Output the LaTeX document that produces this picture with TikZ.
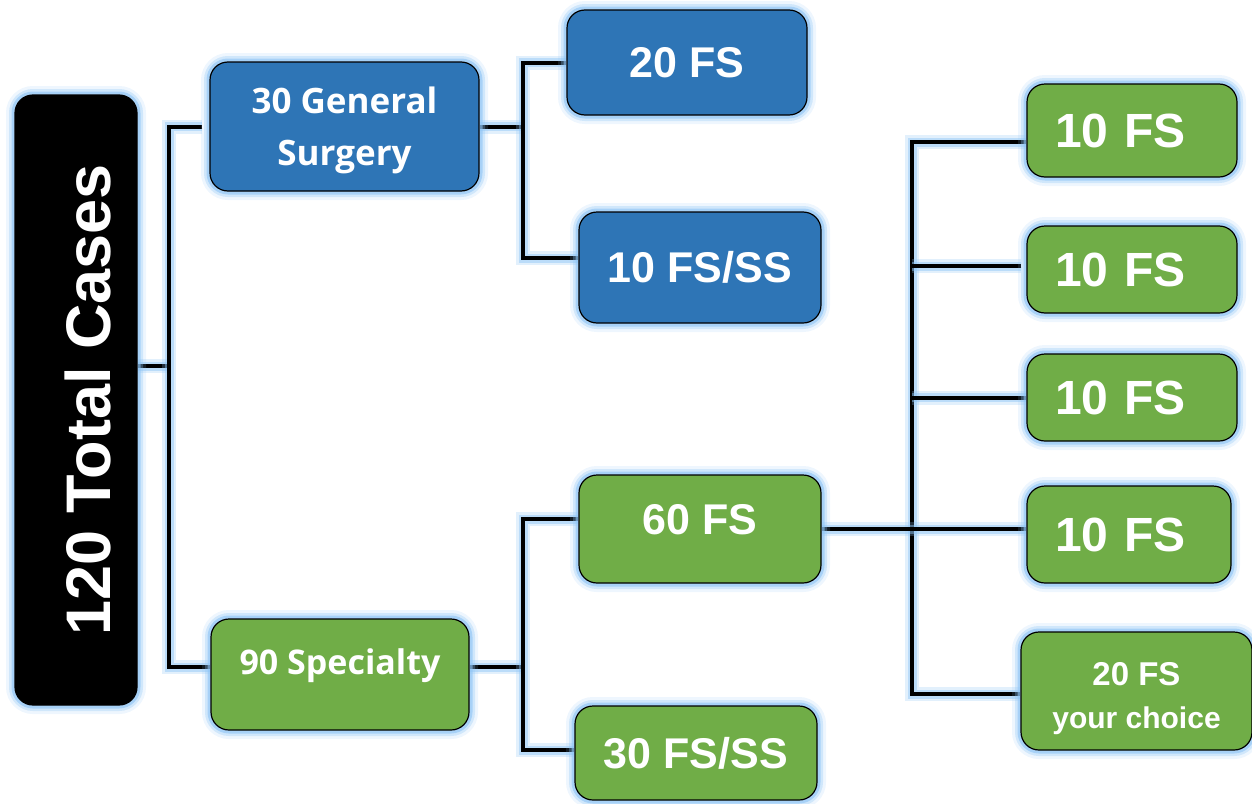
\documentclass[tikz,border=0pt]{standalone}
\usepackage{fontspec}
\setmainfont{Liberation Sans}
\newfontfamily\osans{Open Sans}
\definecolor{boxblue}{RGB}{46,117,182}
\definecolor{boxgreen}{RGB}{112,173,71}
\definecolor{glowblue}{RGB}{140,195,245}
\pgfdeclarelayer{bg}
\pgfsetlayers{bg,main}
\begin{document}
\begin{tikzpicture}[x=1pt,y=-1pt,
  card/.style={draw=black,line width=1.2pt,rounded corners=18pt,text=white,font=\bfseries,
    preaction={draw=glowblue,line width=18pt,opacity=0.15},
    preaction={draw=glowblue,line width=12pt,opacity=0.3},
    preaction={draw=glowblue,line width=7pt,opacity=0.6}},
  conn/.style={line width=4pt,
    preaction={draw=glowblue,line width=14pt,opacity=0.25},
    preaction={draw=glowblue,line width=9pt,opacity=0.45}},
  bluecard/.style={card,fill=boxblue},
  greencard/.style={card,fill=boxgreen},
  big/.style={font=\bfseries\fontsize{43}{50}\selectfont},
  rightcard/.style={greencard,inner xsep=28pt,align=left,font=\bfseries\fontsize{48}{54}\selectfont}]
\useasboundingbox (0,0) rectangle (1252,803);
\node[card,fill=black,minimum width=122,minimum height=610] (total) at (76,400)
  {\rotatebox{90}{\rule{0pt}{70pt}\fontsize{63}{70}\selectfont 120 Total Cases}};
\node[bluecard,minimum width=269,minimum height=129,align=center,font=\osans\bfseries\fontsize{35}{52}\selectfont] (gen) at (344.5,126.5)
  {\rule{0pt}{34pt}30 General\\Surgery};
\node[bluecard,big,minimum width=240,minimum height=105] (fs20) at (687,62.5) {20 FS};
\node[bluecard,big,minimum width=242,minimum height=111] (fsss10) at (700,267.5) {10 FS/SS};
\node[greencard,minimum width=258,minimum height=111,text depth=26pt,font=\osans\bfseries\fontsize{34}{40}\selectfont] (spec) at (340,674.5)
  {90 Specialty};
\node[greencard,big,minimum width=242,minimum height=108,text depth=20pt] (fs60) at (700,529) {60 FS};
\node[greencard,big,minimum width=242,minimum height=94] (fsss30) at (696,753) {30 FS/SS};
\node[rightcard,minimum width=210,minimum height=93,text width=154pt] (r1) at (1132,130.5) {10 FS};
\node[rightcard,minimum width=210,minimum height=87,text width=154pt] (r2) at (1132,269.5) {10 FS};
\node[rightcard,minimum width=210,minimum height=87,text width=154pt] (r3) at (1132,397.5) {10 FS};
\node[rightcard,minimum width=204,minimum height=97,text width=148pt] (r4) at (1129,534.5) {10 FS};
\node[greencard,minimum width=231,minimum height=118,align=center,font=\bfseries\fontsize{30}{43}\selectfont] (r5) at (1136.5,691)
  {{\fontsize{33}{43}\selectfont\rule{0pt}{38pt}20 FS}\\your choice};
\begin{pgfonlayer}{bg}
\draw[conn] ([yshift=34]total.east) -- ++(33,0);
\draw[conn] ([xshift=-7]gen.west) -| ([xshift=-41,yshift=7.5]spec.west) -- ([yshift=7.5]spec.west);
\draw[conn] (gen.east) -- ++(45,0);
\draw[conn] (fs20.west) -| ([xshift=-55,yshift=9.5]fsss10.west) -- ([yshift=9.5]fsss10.west);
\draw[conn] ([yshift=7.5]spec.east) -- ++(55,0);
\draw[conn] ([yshift=10]fs60.west) -| ([xshift=-51,yshift=3]fsss30.west) -- ([yshift=3]fsss30.west);
\draw[conn] ([yshift=-11.5]r1.west) -| ([xshift=-108,yshift=-3]r5.west) -- ([yshift=-3]r5.west);
\draw[conn] ([xshift=-5,yshift=3.5]r2.west) -- ++(-109,0);
\draw[conn] (r3.west) -- ++(-114,0);
\draw[conn] (fs60.east) -- (fs60.east -| r4.west);
\end{pgfonlayer}
\end{tikzpicture}
\end{document}
